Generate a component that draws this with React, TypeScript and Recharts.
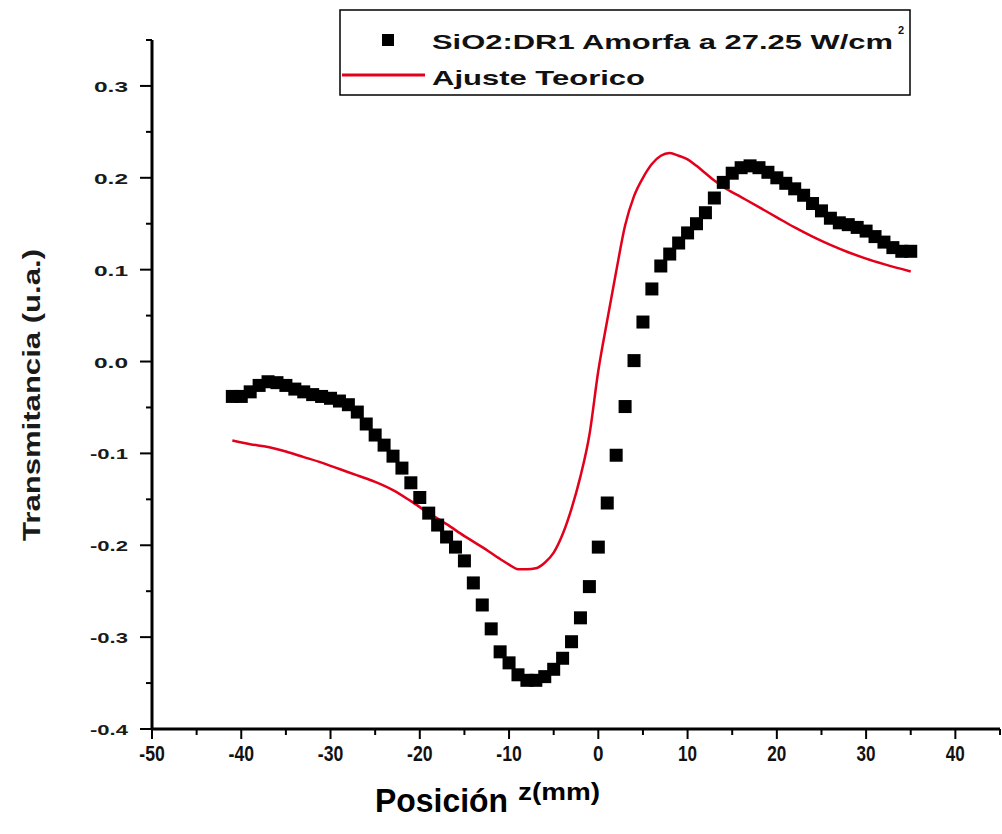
import React from "react";
import {
  ComposedChart,
  Scatter,
  Line,
  XAxis,
  YAxis,
  Legend,
} from "recharts";

// Posición z (mm) de los puntos experimentales
const expZ = [
  -41, -40, -39, -38, -37, -36, -35, -34, -33, -32, -31, -30, -29, -28, -27,
  -26, -25, -24, -23, -22, -21, -20, -19, -18, -17, -16, -15, -14, -13, -12,
  -11, -10, -9, -8, -7, -6, -5, -4, -3, -2, -1, 0, 1, 2, 3, 4, 5, 6, 7, 8, 9,
  10, 11, 12, 13, 14, 15, 16, 17, 18, 19, 20, 21, 22, 23, 24, 25, 26, 27, 28,
  29, 30, 31, 32, 33, 34, 35,
];
// Transmitancia medida (SiO2:DR1 amorfa)
const expT = [
  -0.038, -0.038, -0.033, -0.026, -0.022, -0.023, -0.026, -0.03, -0.033,
  -0.036, -0.038, -0.04, -0.043, -0.047, -0.055, -0.068, -0.08, -0.091,
  -0.103, -0.116, -0.132, -0.148, -0.165, -0.178, -0.191, -0.202, -0.217,
  -0.241, -0.265, -0.291, -0.316, -0.328, -0.341, -0.347, -0.347, -0.343,
  -0.335, -0.323, -0.305, -0.279, -0.245, -0.202, -0.154, -0.102, -0.049,
  0.001, 0.043, 0.079, 0.104, 0.117, 0.129, 0.14, 0.15, 0.162, 0.178, 0.195,
  0.205, 0.211, 0.213, 0.211, 0.206, 0.2, 0.194, 0.188, 0.181, 0.172, 0.164,
  0.156, 0.151, 0.149, 0.146, 0.142, 0.136, 0.13, 0.124, 0.12, 0.12,
];

// Ajuste teórico
const fitZ = [
  -41, -39, -37, -35, -33, -31, -29, -27, -25, -23, -21, -19, -17, -15, -13,
  -11, -10, -9, -8, -7, -6, -5, -4, -3, -2, -1, 0, 1, 2, 3, 4, 5, 6, 7, 8, 9,
  10, 11, 12, 13, 14, 16, 18, 20, 22, 24, 26, 28, 30, 32, 35,
];
const fitT = [
  -0.086, -0.09, -0.093, -0.098, -0.104, -0.11, -0.117, -0.124, -0.131, -0.14,
  -0.152, -0.165, -0.177, -0.19, -0.202, -0.215, -0.221, -0.226, -0.226,
  -0.225, -0.219, -0.208, -0.188, -0.16, -0.125, -0.08, -0.01, 0.045, 0.098,
  0.148, 0.18, 0.2, 0.215, 0.224, 0.227, 0.224, 0.22, 0.213, 0.205, 0.197,
  0.19, 0.179, 0.168, 0.157, 0.146, 0.136, 0.127, 0.119, 0.112, 0.106, 0.098,
];

const xTicks = [
  -50, -45, -40, -35, -30, -25, -20, -15, -10, -5, 0, 5, 10, 15, 20, 25, 30,
  35, 40, 45,
];
const yTicks = [
  -0.4, -0.35, -0.3, -0.25, -0.2, -0.15, -0.1, -0.05, 0, 0.05, 0.1, 0.15, 0.2,
  0.25, 0.3, 0.35,
];

const expData = expZ.map((z, i) => ({ z, t: expT[i] }));
const fitData = fitZ.map((z, i) => ({ z, t: fitT[i] }));

const RED = "#e3001b";
const FONT = "'Liberation Sans', Arial, sans-serif";
const STRETCH = "spacingAndGlyphs";

const XTick = (props: any) => {
  const { x, y, payload } = props;
  const v = payload.value;
  const major = Math.round(v) % 10 === 0;
  const label = String(v);
  return (
    <g>
      <line x1={x} y1={y} x2={x} y2={y + (major ? 10 : 6)} stroke="#000" strokeWidth={2} />
      {major && (
        <text
          x={x}
          y={y + 32}
          textAnchor="middle"
          fontFamily={FONT}
          fontWeight="bold"
          fontSize={22}
          fill="#111"
          textLength={label.length * 8.5 + (label.startsWith("-") ? 0 : 2)}
          lengthAdjust={STRETCH}
        >
          {label}
        </text>
      )}
    </g>
  );
};

const YTick = (props: any) => {
  const { x, y, payload } = props;
  const v = payload.value;
  const major = Math.round(v * 100) % 10 === 0;
  const label = v.toFixed(1);
  return (
    <g>
      <line x1={x} y1={y} x2={x - (major ? 12 : 6)} y2={y} stroke="#000" strokeWidth={2} />
      {major && (
        <text
          x={x - 24}
          y={y + 6}
          textAnchor="end"
          fontFamily={FONT}
          fontWeight="bold"
          fontSize={15}
          fill="#1a1a1a"
          textLength={label.length > 3 ? 38 : 34}
          lengthAdjust={STRETCH}
        >
          {label}
        </text>
      )}
    </g>
  );
};

const Square = (props: any) => {
  const { cx, cy } = props;
  return <rect x={cx - 6.5} y={cy - 6.5} width={13} height={13} fill="#000" />;
};

const LegendBox = () => (
  <svg width={1002} height={110} style={{ display: "block" }}>
    <rect x={340} y={10} width={570} height={85} fill="#fff" stroke="#000" strokeWidth={1.5} />
    <rect x={382} y={34} width={12} height={12} fill="#000" />
    <text
      x={432}
      y={49}
      fontFamily={FONT}
      fontWeight="bold"
      fontSize={21}
      fill="#111"
      textLength={461}
      lengthAdjust={STRETCH}
    >
      SiO2:DR1 Amorfa a 27.25 W/cm
    </text>
    <text x={898} y={34} fontFamily={FONT} fontWeight="bold" fontSize={11} fill="#111">
      2
    </text>
    <line x1={342} y1={75} x2={425} y2={75} stroke={RED} strokeWidth={3} />
    <text
      x={432}
      y={85}
      fontFamily={FONT}
      fontWeight="bold"
      fontSize={21}
      fill="#111"
      textLength={213}
      lengthAdjust={STRETCH}
    >
      Ajuste Teorico
    </text>
  </svg>
);

const YTitle = () => {
  const cx = 31;
  const cy = 395;
  return (
    <text
      x={cx}
      y={cy}
      transform={`rotate(-90 ${cx} ${cy})`}
      textAnchor="middle"
      dominantBaseline="central"
      fontFamily={FONT}
      fontWeight="bold"
      fontSize={24}
      fill="#1a1a1a"
      textLength={292}
      lengthAdjust={STRETCH}
    >
      Transmitancia (u.a.)
    </text>
  );
};

const XTitle = () => (
  <g>
    <text
      x={375}
      y={812}
      fontFamily={FONT}
      fontWeight="bold"
      fontSize={34}
      fill="#000"
      textLength={133}
      lengthAdjust={STRETCH}
    >
      Posición
    </text>
    <text
      x={518}
      y={800}
      fontFamily={FONT}
      fontWeight="bold"
      fontSize={23}
      fill="#000"
      textLength={82}
      lengthAdjust={STRETCH}
    >
      z(mm)
    </text>
  </g>
);

export default function App() {
  return (
    <div style={{ position: "absolute", left: 0, top: 0, width: 1002, height: 834, background: "#fff" }}>
      <ComposedChart
        width={1002}
        height={834}
        margin={{ top: 40, right: 2, bottom: 75, left: 92 }}
      >
        <XAxis
          type="number"
          dataKey="z"
          domain={[-50, 45]}
          ticks={xTicks}
          interval={0}
          tick={<XTick />}
          tickLine={false}
          tickSize={0}
          tickMargin={0}
          height={30}
          axisLine={{ stroke: "#000", strokeWidth: 3 }}
          label={<XTitle />}
        />
        <YAxis
          type="number"
          dataKey="t"
          domain={[-0.4, 0.35]}
          ticks={yTicks}
          interval={0}
          tick={<YTick />}
          tickLine={false}
          tickSize={0}
          tickMargin={0}
          width={60}
          axisLine={{ stroke: "#000", strokeWidth: 3 }}
          label={<YTitle />}
        />
        <Legend
          verticalAlign="middle"
          align="center"
          layout="horizontal"
          wrapperStyle={{ position: "absolute", left: 0, top: 0, width: 1002, height: 110 }}
          content={() => <LegendBox />}
        />
        <Line
          data={fitData}
          dataKey="t"
          type="monotone"
          stroke={RED}
          strokeWidth={2.5}
          dot={false}
          isAnimationActive={false}
          legendType="line"
        />
        <Scatter
          data={expData}
          dataKey="t"
          fill="#000"
          shape={<Square />}
          isAnimationActive={false}
        />
      </ComposedChart>
    </div>
  );
}
